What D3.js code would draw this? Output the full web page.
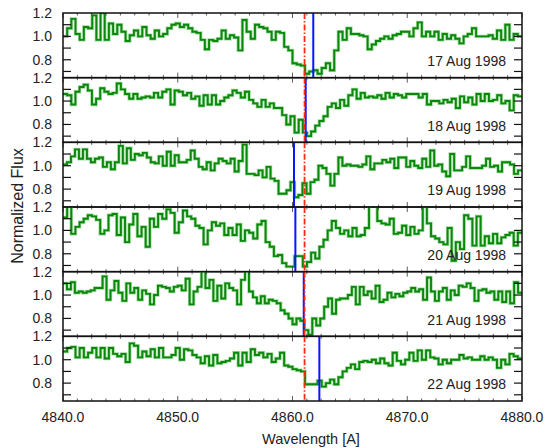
<!DOCTYPE html>
<html>
<head>
<meta charset="utf-8">
<script src="https://cdn.jsdelivr.net/npm/d3@7.9.0/dist/d3.min.js"></script>
<style>
  body { margin: 0; background: #fff; }
  text { font-family: "Liberation Sans", Arial, sans-serif; fill: #222; }
</style>
</head>
<body>
<div id="viz"></div>
<script>
// Wavelength range of every panel
const wlMin = 4840;
const wlMax = 4880;
const xTickValues = [4840, 4850, 4860, 4870, 4880];

// Observation dates, top to bottom
const dates = ["17 Aug 1998", "18 Aug 1998", "19 Aug 1998", "20 Aug 1998", "21 Aug 1998", "22 Aug 1998"];

// Normalized flux, equal bins across 4840-4880 A
const flux17 = [
  1.00,1.07,1.15,1.02,0.97,1.08,1.07,1.18,0.97,1.20,
  0.97,1.11,1.02,1.10,1.04,0.96,1.01,1.05,1.00,1.08,
  1.01,0.98,1.05,1.00,1.02,1.07,1.10,1.11,1.08,1.10,
  1.07,1.04,1.03,0.97,0.89,0.97,0.96,0.98,1.05,0.98,
  1.01,0.99,0.88,1.14,1.04,0.98,1.10,1.08,1.07,1.04,
  0.97,1.04,1.03,0.91,0.88,0.77,0.76,0.75,0.68,0.70,
  0.71,0.68,0.73,0.77,0.71,0.88,1.04,0.97,1.07,1.02,
  1.02,1.01,1.00,0.89,0.93,0.96,0.98,1.00,0.98,1.01,
  1.02,1.04,1.04,1.00,1.07,1.12,1.00,1.04,1.00,1.04,
  0.97,1.02,0.98,1.01,0.98,0.94,1.00,1.02,1.07,1.00,
  1.00,1.00,1.01,0.98,1.05,0.97,1.10,0.97,1.02,1.00
];
const flux18 = [
  1.06,1.05,0.97,1.08,1.12,1.14,1.09,0.97,1.02,1.11,
  1.08,1.06,1.07,1.15,1.10,1.06,1.02,1.06,1.02,1.03,
  1.04,1.03,1.07,1.03,1.08,1.10,0.97,1.09,1.08,1.05,
  1.07,1.02,1.04,0.96,1.05,0.97,1.05,0.97,1.00,1.03,
  1.05,1.09,1.07,1.03,1.08,1.01,0.98,0.95,1.01,0.95,
  0.98,0.94,0.94,0.88,0.80,0.87,0.73,0.84,0.73,0.70,
  0.74,0.79,0.83,0.87,0.95,0.98,0.94,1.01,0.96,1.05,
  1.10,1.02,1.07,1.03,1.04,1.03,1.05,1.02,1.07,1.03,
  1.06,1.05,1.03,1.06,1.06,1.06,1.03,1.06,0.97,1.00,
  1.00,0.98,1.01,0.99,1.02,0.94,1.04,0.99,1.03,0.97,
  1.06,1.00,1.06,1.00,1.01,1.05,0.98,1.00,0.92,1.05,
  1.04
];
const flux19 = [
  1.01,1.03,1.08,1.14,1.06,1.14,1.06,1.03,1.06,1.07,
  0.99,1.03,0.97,1.03,1.17,1.02,1.15,1.05,1.10,1.09,
  1.11,1.07,1.03,1.02,1.08,1.00,1.12,1.00,1.09,1.03,
  1.03,1.05,1.13,1.06,0.99,0.97,1.03,0.96,1.02,1.06,
  1.04,1.02,1.06,0.95,1.04,1.18,0.93,0.93,0.92,0.96,
  0.90,0.99,0.89,0.87,0.76,0.76,0.79,0.86,0.73,0.75,
  0.85,0.76,0.86,0.88,1.00,0.98,0.93,0.83,0.93,1.07,
  1.00,1.01,1.00,1.00,0.99,1.01,1.08,0.97,1.02,1.02,
  1.05,1.03,1.06,0.98,1.07,1.07,0.99,1.04,1.00,0.98,
  1.06,0.99,1.13,1.00,1.01,0.95,0.91,1.10,0.96,0.96,
  0.99,1.08,0.98,0.98,0.98,1.00,1.06,0.99,1.00,0.95,
  1.03,1.03,1.01,0.93,0.96
];
const flux20 = [
  1.11,1.22,0.97,1.03,1.07,1.10,1.13,1.12,1.09,0.97,
  1.00,1.13,1.14,0.96,1.11,0.90,1.05,1.14,0.95,1.03,
  0.86,1.10,1.03,1.14,1.10,1.18,1.15,0.98,1.07,1.17,
  1.12,1.10,1.04,1.02,0.88,1.00,1.07,1.04,1.06,0.96,
  1.02,0.96,1.05,0.91,1.00,0.98,0.93,1.05,1.08,0.90,
  0.86,0.78,0.79,0.72,0.69,0.69,0.78,0.78,0.69,0.73,
  0.81,0.76,0.86,0.92,1.00,1.08,1.02,0.97,1.00,0.95,
  1.02,0.95,0.96,1.02,1.25,1.25,1.08,1.06,1.05,1.10,
  0.97,0.98,1.04,0.96,1.03,0.97,1.00,1.22,1.06,0.95,
  0.93,0.90,0.88,1.02,0.74,0.90,0.84,1.13,1.10,0.87,
  1.12,0.87,0.95,0.89,0.97,0.89,0.94,0.96,0.98,0.87,
  0.98
];
const flux21 = [
  1.10,1.05,1.11,1.02,1.03,1.02,1.03,1.04,1.06,1.06,
  1.16,0.96,1.04,1.12,1.02,0.95,1.10,1.02,1.06,0.96,
  1.04,1.01,0.92,1.00,1.08,1.07,1.06,1.03,1.07,1.08,
  1.04,1.14,0.92,1.03,1.07,1.25,1.06,1.13,0.95,1.08,
  0.97,1.10,1.06,1.04,0.92,1.13,1.22,1.03,0.98,0.93,
  0.99,0.93,0.96,0.95,0.93,0.87,0.84,0.80,0.75,0.80,
  0.78,0.70,0.66,0.80,0.74,0.80,0.90,0.97,0.84,0.96,
  0.97,0.97,1.00,1.07,0.92,1.07,1.00,1.03,0.97,1.08,
  0.94,0.96,1.02,0.98,1.01,0.99,1.02,1.03,1.06,1.03,
  1.05,0.96,1.15,1.03,0.95,1.03,1.06,0.96,1.04,1.00,
  1.08,1.07,1.10,1.06,0.95,1.04,1.05,1.02,1.03,0.96,
  1.03,0.94,1.03,0.93,1.11,1.02
];
const flux22 = [
  1.07,1.10,1.11,1.02,1.10,1.02,1.06,1.10,1.02,1.10,
  1.01,1.10,1.05,1.03,1.05,0.98,1.14,1.12,1.02,1.07,
  1.03,1.09,1.02,1.10,1.02,1.02,1.04,1.10,1.00,1.09,
  1.08,1.04,1.02,0.97,1.03,0.95,1.04,0.97,0.98,0.99,
  1.01,1.06,0.95,1.06,0.98,1.09,1.04,1.06,1.02,1.05,
  0.98,1.01,1.06,0.95,0.94,0.92,0.91,0.90,0.79,0.79,
  0.79,0.82,0.77,0.80,0.83,0.79,0.85,0.90,0.93,0.96,
  0.92,0.98,0.99,0.98,1.00,0.97,1.01,0.97,0.95,1.06,
  0.99,0.96,1.00,1.06,0.99,1.08,1.00,1.08,1.02,1.01,
  0.96,1.00,0.97,1.00,1.00,1.04,1.01,1.02,1.00,1.00,
  1.03,1.00,1.02,1.00,0.93,1.00,0.96,1.05,1.03,1.01
];
const spectra = [flux17, flux18, flux19, flux20, flux21, flux22];

// Measured line position (blue) for each night, and rest position (red)
const measuredWl = [4861.81, 4861.15, 4860.13, 4860.25, 4860.98, 4862.34];
const restWl = 4861.05;

// y axis of each panel
const yDomain = [0.647, 1.2];
const yTicks = [0.7, 0.8, 0.9, 1.0, 1.1];
const yLabels = [0.8, 1.0, 1.2];

const width = 549, height = 448;
const margin = { top: 13, right: 27, bottom: 47, left: 63 };
const innerW = width - margin.left - margin.right;
const panelH = (height - margin.top - margin.bottom) / dates.length;

const svg = d3.select("#viz")
  .append("svg")
  .attr("width", width)
  .attr("height", height);

svg.append("rect").attr("width", width).attr("height", height).attr("fill", "#fff");

const x = d3.scaleLinear().domain([wlMin, wlMax]).range([margin.left, margin.left + innerW]);

// minor x ticks, 8 per major interval
const xMinor = d3.range(wlMin, wlMax + 0.001, 1.25);

dates.forEach((date, p) => {
  const top = margin.top + p * panelH;
  const y = d3.scaleLinear().domain(yDomain).range([top + panelH, top]);
  const g = svg.append("g");

  const clipId = "clip" + p;
  svg.append("clipPath").attr("id", clipId)
    .append("rect")
    .attr("x", margin.left).attr("y", top)
    .attr("width", innerW).attr("height", panelH);

  const flux = spectra[p];
  const step = (wlMax - wlMin) / flux.length;
  const pts = flux.map((v, i) => [wlMin + i * step, v]);
  pts.push([wlMax, flux[flux.length - 1]]);

  const line = d3.line()
    .x(d => x(d[0]))
    .y(d => y(d[1]))
    .curve(d3.curveStepAfter);

  const plot = g.append("g").attr("clip-path", `url(#${clipId})`);

  // spectrum: soft halo under a darker core
  plot.append("path")
    .datum(pts)
    .attr("d", line)
    .attr("fill", "none")
    .attr("stroke", "#9fdc9f")
    .attr("stroke-width", 3.4);
  plot.append("path")
    .datum(pts)
    .attr("d", line)
    .attr("fill", "none")
    .attr("stroke", "#0b870b")
    .attr("stroke-width", 1.9);

  // measured position
  plot.append("line")
    .attr("x1", x(measuredWl[p])).attr("x2", x(measuredWl[p]))
    .attr("y1", top).attr("y2", top + panelH)
    .attr("stroke", "#0a14ff")
    .attr("stroke-width", 2);

  // rest position
  plot.append("line")
    .attr("x1", x(restWl)).attr("x2", x(restWl))
    .attr("y1", top).attr("y2", top + panelH)
    .attr("stroke", "#ff2a10")
    .attr("stroke-width", 1.8)
    .attr("stroke-dasharray", "6,2,1.5,2");

  // y ticks, left and right, pointing inward
  yTicks.forEach(t => {
    g.append("line")
      .attr("x1", margin.left).attr("x2", margin.left + 8)
      .attr("y1", y(t)).attr("y2", y(t))
      .attr("stroke", "#111").attr("stroke-width", 1.2);
    g.append("line")
      .attr("x1", margin.left + innerW - 8).attr("x2", margin.left + innerW)
      .attr("y1", y(t)).attr("y2", y(t))
      .attr("stroke", "#111").attr("stroke-width", 1.2);
  });

  // x ticks on top and bottom of the panel
  xMinor.forEach(t => {
    const len = xTickValues.includes(t) ? 5 : 2.5;
    g.append("line")
      .attr("x1", x(t)).attr("x2", x(t))
      .attr("y1", top + panelH).attr("y2", top + panelH - len)
      .attr("stroke", "#333").attr("stroke-width", 0.8);
    g.append("line")
      .attr("x1", x(t)).attr("x2", x(t))
      .attr("y1", top).attr("y2", top + len)
      .attr("stroke", "#333").attr("stroke-width", 0.8);
  });

  // y labels
  yLabels.forEach(t => {
    g.append("text")
      .attr("x", 52)
      .attr("y", y(t))
      .attr("dy", "0.36em")
      .attr("text-anchor", "end")
      .attr("font-size", "14px")
      .text(d3.format(".1f")(t));
  });

  // date label
  g.append("text")
    .attr("x", 506)
    .attr("y", top + 53)
    .attr("text-anchor", "end")
    .attr("font-size", "14px")
    .text(date);

  // panel frame
  g.append("rect")
    .attr("x", margin.left).attr("y", top)
    .attr("width", innerW).attr("height", panelH)
    .attr("fill", "none")
    .attr("stroke", "#111")
    .attr("stroke-width", 1.5);
});

// x tick labels
svg.selectAll(".xlab")
  .data(xTickValues)
  .join("text")
  .attr("class", "xlab")
  .attr("x", d => x(d))
  .attr("y", 422)
  .attr("text-anchor", "middle")
  .attr("font-size", "14px")
  .text(d => d3.format(".1f")(d));

// axis titles
svg.append("text")
  .attr("x", 311)
  .attr("y", 444)
  .attr("text-anchor", "middle")
  .attr("font-size", "14.5px")
  .text("Wavelength [A]");

svg.append("text")
  .attr("transform", "translate(23,206) rotate(-90)")
  .attr("text-anchor", "middle")
  .attr("font-size", "16px")
  .text("Normalized Flux");
</script>
</body>
</html>
